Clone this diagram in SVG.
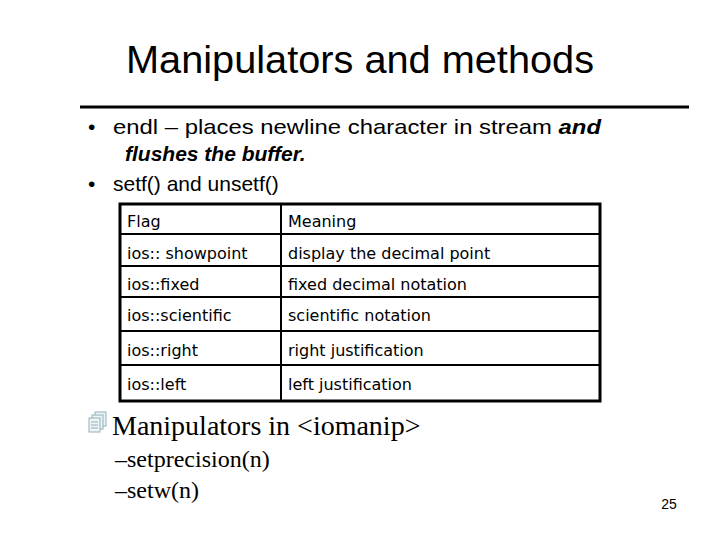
<svg xmlns="http://www.w3.org/2000/svg" width="720" height="540" viewBox="0 0 720 540">
<style>
.s{font-family:"Liberation Sans",Arial,sans-serif;fill:#000}
.c{font-family:"DejaVu Sans","Noto Sans",sans-serif;font-size:16px;fill:#000}
.t{font-family:"Liberation Serif","Times New Roman",serif;fill:#000}
.in{stroke:#000;stroke-width:2}
</style>
<rect width="720" height="540" fill="#fff"/>
<text class="s" x="360" y="73" font-size="38" text-anchor="middle" textLength="468" lengthAdjust="spacingAndGlyphs">Manipulators and methods</text>
<line x1="80" y1="107" x2="689" y2="107" stroke="#000" stroke-width="3"/>
<g font-size="21">
<text class="s" x="88" y="134">•</text>
<text class="s" x="113" y="134" textLength="488" lengthAdjust="spacingAndGlyphs">endl – places newline character in stream <tspan font-weight="bold" font-style="italic">and</tspan></text>
<text class="s" x="125" y="161" font-weight="bold" font-style="italic">flushes the buffer.</text>
<text class="s" x="88" y="191">•</text>
<text class="s" x="113" y="191">setf() and unsetf()</text>
</g>
<g id="table">
<rect x="120" y="204" width="480" height="197" fill="none" stroke="#000" stroke-width="3"/>
<line class="in" x1="281" y1="204" x2="281" y2="401"/>
<line class="in" x1="120" y1="234" x2="600" y2="234"/>
<line class="in" x1="120" y1="266" x2="600" y2="266"/>
<line class="in" x1="120" y1="297" x2="600" y2="297"/>
<line class="in" x1="120" y1="331" x2="600" y2="331"/>
<line class="in" x1="120" y1="365" x2="600" y2="365"/>
<text class="c" x="127" y="227">Flag</text><text class="c" x="288" y="227">Meaning</text>
<text class="c" x="127" y="259">ios:: showpoint</text><text class="c" x="288" y="259">display the decimal point</text>
<text class="c" x="127" y="290">ios::fixed</text><text class="c" x="288" y="290">fixed decimal notation</text>
<text class="c" x="127" y="321">ios::scientific</text><text class="c" x="288" y="321">scientific notation</text>
<text class="c" x="127" y="356">ios::right</text><text class="c" x="288" y="356">right justification</text>
<text class="c" x="127" y="390">ios::left</text><text class="c" x="288" y="390">left justification</text>
</g>
<g id="icon" fill="#eef4f6" stroke="#8fb0b8" stroke-width="1">
<rect x="95" y="412" width="11" height="14"/>
<rect x="92" y="415" width="11" height="14"/>
<rect x="89" y="418" width="11" height="14"/>
<path d="M91 422h7M91 425h7M91 428h7" stroke="#8fb0b8"/>
</g>
<text class="t" x="112" y="435" font-size="28">Manipulators in &lt;iomanip&gt;</text>
<text class="t" x="115" y="467" font-size="24">–setprecision(n)</text>
<text class="t" x="115" y="498" font-size="24">–setw(n)</text>
<text class="s" x="669" y="509" font-size="14" text-anchor="middle">25</text>
</svg>
